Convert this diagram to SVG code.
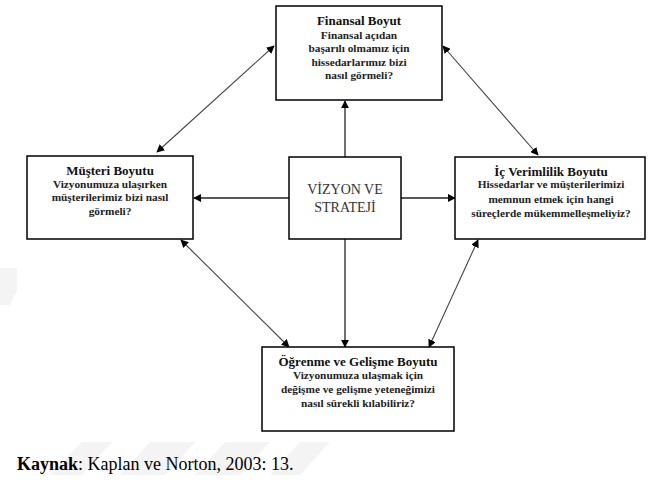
<svg xmlns="http://www.w3.org/2000/svg" width="651" height="496" viewBox="0 0 651 496">
  <style>
    .box { fill: #ffffff; stroke: #000000; stroke-width: 1.5; }
    .title { font-family: "Liberation Serif", "DejaVu Serif", serif; font-size: 13px; font-weight: bold; fill: #111; text-anchor: middle; }
    .body { font-family: "Liberation Serif", "DejaVu Serif", serif; font-size: 11.3px; font-weight: bold; fill: #222; text-anchor: middle; }
    .center { font-family: "Liberation Serif", "DejaVu Serif", serif; font-size: 14px; fill: #333; text-anchor: middle; }
    .link { stroke: #222; stroke-width: 1.3; fill: none; }
    .diag { stroke: #444; stroke-width: 1.1; fill: none; }
    .caption { font-family: "Liberation Serif", "DejaVu Serif", serif; font-size: 18px; fill: #000; }
    .mark { fill: #f4f4f4; }
  </style>
  <defs>
    <marker id="head" viewBox="0 0 10 10" refX="9" refY="5" markerWidth="8" markerHeight="8" markerUnits="userSpaceOnUse" orient="auto-start-reverse">
      <path d="M0,0 L10,5 L0,10 z" fill="#000"/>
    </marker>
  </defs>

  <rect width="651" height="496" fill="#ffffff"/>

  <!-- faint background watermark -->
  <g id="watermark">
    <polygon class="mark" points="0,268 17,268 17,290 10,305 0,305"/>
    <polygon class="mark" points="82,442 112,442 82,475 50,475"/>
    <polygon class="mark" points="150,442 195,442 165,475 120,475"/>
    <polygon class="mark" points="225,442 270,442 240,475 195,475"/>
    <polygon class="mark" points="300,442 330,442 300,475 270,475"/>
  </g>

  <!-- connectors -->
  <g id="connectors">
    <line class="link" x1="345" y1="157" x2="345" y2="101" marker-end="url(#head)"/>
    <line class="link" x1="289" y1="198" x2="194" y2="198" marker-end="url(#head)"/>
    <line class="link" x1="401" y1="198" x2="455" y2="198" marker-end="url(#head)"/>
    <line class="link" x1="345" y1="239" x2="345" y2="347" marker-end="url(#head)"/>
    <line class="diag" x1="157" y1="152" x2="274" y2="46" marker-start="url(#head)" marker-end="url(#head)"/>
    <line class="diag" x1="443" y1="46" x2="538" y2="155" marker-start="url(#head)" marker-end="url(#head)"/>
    <line class="diag" x1="181" y1="240" x2="289" y2="347" marker-start="url(#head)" marker-end="url(#head)"/>
    <line class="diag" x1="478" y1="240" x2="429" y2="347" marker-start="url(#head)" marker-end="url(#head)"/>
  </g>

  <g id="finansal">
    <rect class="box" x="276" y="6" width="166" height="94"/>
    <text class="title" x="359" y="25">Finansal Boyut</text>
    <text class="body" x="359" y="38.5">Finansal açıdan</text>
    <text class="body" x="359" y="52">başarılı olmamız için</text>
    <text class="body" x="359" y="65.5">hissedarlarımız bizi</text>
    <text class="body" x="359" y="79">nasıl görmeli?</text>
  </g>

  <g id="musteri">
    <rect class="box" x="27" y="156" width="166" height="83"/>
    <text class="title" x="110" y="175">Müşteri Boyutu</text>
    <text class="body" x="110" y="187.5">Vizyonumuza ulaşırken</text>
    <text class="body" x="110" y="201">müşterilerimiz bizi nasıl</text>
    <text class="body" x="110" y="214.5">görmeli?</text>
  </g>

  <g id="vizyon">
    <rect class="box" x="289" y="157" width="112" height="82"/>
    <text class="center" x="345" y="194">VİZYON VE</text>
    <text class="center" x="345" y="212">STRATEJİ</text>
  </g>

  <g id="ic-verimlilik">
    <rect class="box" x="455" y="157" width="190" height="82"/>
    <text class="title" x="551" y="176">İç Verimlilik Boyutu</text>
    <text class="body" x="551" y="188">Hissedarlar ve müşterilerimizi</text>
    <text class="body" x="551" y="202.5">memnun etmek için hangi</text>
    <text class="body" x="551" y="216.5">süreçlerde mükemmelleşmeliyiz?</text>
  </g>

  <g id="ogrenme">
    <rect class="box" x="262" y="347" width="192" height="84"/>
    <text class="title" x="358" y="366">Öğrenme ve Gelişme Boyutu</text>
    <text class="body" x="358" y="378.5">Vizyonumuza ulaşmak için</text>
    <text class="body" x="358" y="392.5">değişme ve gelişme yeteneğimizi</text>
    <text class="body" x="358" y="406.5">nasıl sürekli kılabiliriz?</text>
  </g>

  <text class="caption" x="17" y="470"><tspan font-weight="bold">Kaynak</tspan>: Kaplan ve Norton, 2003: 13.</text>
</svg>
